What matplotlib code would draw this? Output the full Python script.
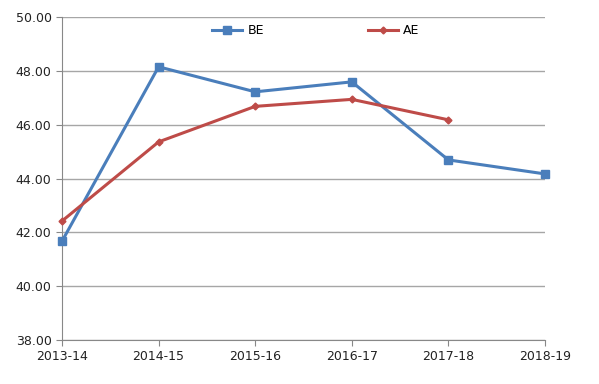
import matplotlib
matplotlib.use("Agg")
import matplotlib.pyplot as plt

years = ["2013-14", "2014-15", "2015-16", "2016-17", "2017-18", "2018-19"]
be = [41.67, 48.15, 47.22, 47.59, 44.69, 44.17]
ae = [42.42, 45.36, 46.68, 46.94, 46.18]

fig = plt.figure(figsize=(5.99, 3.84), dpi=100)
ax = fig.add_axes([62/599, 1-340/384, (545-62)/599, (340-17)/384])
x = list(range(len(years)))
ax.plot(x, be, color="#4a7ebb", lw=2.2, marker="s", ms=5.5, label="BE", clip_on=False, zorder=3)
ax.plot(x[:len(ae)], ae, color="#be4b48", lw=2.2, marker="D", ms=3.5, label="AE", clip_on=False, zorder=4)
ax.set_xlim(0, len(years)-1)
ax.set_ylim(38, 50)
ax.set_yticks([38, 40, 42, 44, 46, 48, 50])
ax.set_yticklabels([f"{v:.2f}" for v in [38, 40, 42, 44, 46, 48, 50]])
ax.set_xticks(x)
ax.set_xticklabels(years)
ax.grid(axis="y", color="#a6a6a6", lw=1)
ax.set_axisbelow(True)
for s in ["top", "right"]:
    ax.spines[s].set_visible(False)
for s in ["left", "bottom"]:
    ax.spines[s].set_color("#888888")
ax.tick_params(colors="#888888", labelcolor="#222222", labelsize=9, length=4)
leg = ax.legend(loc="upper left", bbox_to_anchor=((207-62)/483 - 0.012, 1.012), ncol=2, frameon=False,
                fontsize=9, columnspacing=8.3, handlelength=2.4, handletextpad=0.4)
fig.savefig("out.png", dpi=100)
